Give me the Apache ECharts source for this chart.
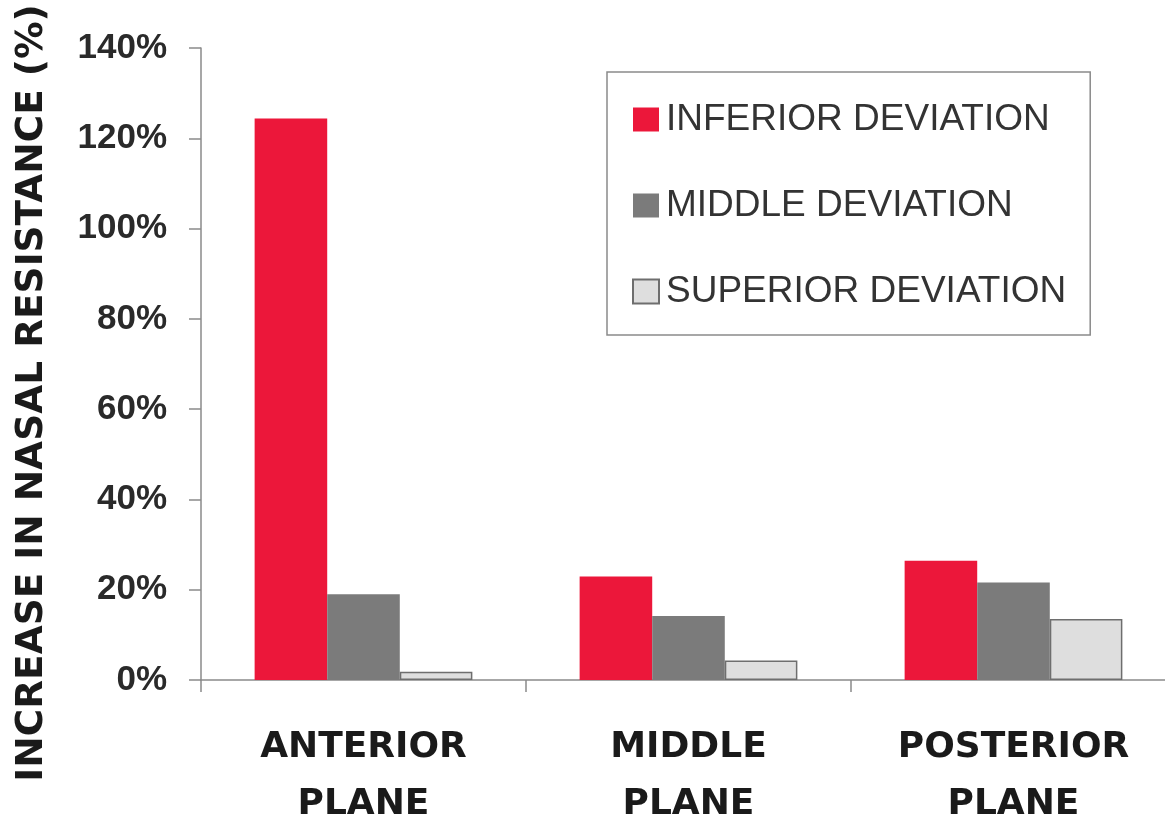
<!DOCTYPE html>
<html>
<head>
<meta charset="utf-8">
<title>Nasal resistance</title>
<script src="https://cdn.jsdelivr.net/npm/echarts@6/dist/echarts.min.js"></script>
<style>
	html,body{margin:0;padding:0;background:#fff;}
	#planeChart{width:1165px;height:819px;}
</style>
</head>
<body>
<div id="planeChart"></div>
<script>
var planes = ['ANTERIOR\nPLANE', 'MIDDLE\nPLANE', 'POSTERIOR\nPLANE'];
var seriesNames = ['INFERIOR DEVIATION', 'MIDDLE DEVIATION', 'SUPERIOR DEVIATION'];
var inferiorData = [124.4, 22.9, 26.4];
var middleData = [19.0, 14.2, 21.6];
var superiorData = [1.8, 4.3, 13.5];
var yTicks = [0, 20, 40, 60, 80, 100, 120, 140];

var charts;
function showPlaneChart(){
	//init chart
	charts = echarts.init(document.getElementById("planeChart"));
	var option = {
		backgroundColor:'#ffffff',
		animation:false,
		grid:{
			left:201,
			top:48,
			width:975,
			height:632,
			containLabel:false,
			outerBoundsMode:'none'
		},
		legend:{
			orient:'vertical',
			left:607,
			top:72,
			data:seriesNames,
			icon:'rect',
			itemWidth:26,
			itemHeight:24,
			itemGap:49,
			padding:[29, 24, 25, 25],
			borderColor:'#8a8a8a',
			borderWidth:1.5,
			backgroundColor:'#ffffff',
			textStyle:{
				fontFamily:'Liberation Sans',
				fontSize:37,
				color:'#333333',
				padding:[0, 0, 0, 2]
			}
		},
		xAxis:{
			type:'category',
			data:planes,
			axisLine:{lineStyle:{color:'#8a8a8a', width:1.5}},
			axisTick:{show:true, length:12, lineStyle:{color:'#8a8a8a', width:1.5}},
			axisLabel:{
				margin:39,
				fontFamily:'DejaVu Sans',
				fontWeight:'bold',
				fontSize:36,
				lineHeight:57,
				color:'#1a1a1a',
				interval:0
			}
		},
		yAxis:{
			type:'value',
			min:yTicks[0],
			max:yTicks[yTicks.length - 1],
			interval:20,
			name:'INCREASE IN NASAL RESISTANCE (%)',
			nameLocation:'middle',
			nameRotate:90,
			nameGap:150,
			nameTextStyle:{
				fontFamily:'DejaVu Sans',
				fontWeight:'bold',
				fontSize:37.5,
				color:'#1a1a1a',
				padding:[0, 58, 0, 0]
			},
			axisLine:{show:true, lineStyle:{color:'#8a8a8a', width:1.5}},
			axisTick:{show:true, length:12, lineStyle:{color:'#8a8a8a', width:1.5}},
			splitLine:{show:false},
			axisLabel:{
				margin:34,
				fontFamily:'Liberation Sans',
				fontWeight:'bold',
				fontSize:35,
				color:'#2a2a2a',
				formatter:function(value){
					return value + '%';
				}
			}
		},
		series:[
			{
				name:seriesNames[0],
				type:'bar',
				data:inferiorData,
				barGap:'0%',
				barCategoryGap:'33%',
				itemStyle:{color:'#ec173a'}
			},
			{
				name:seriesNames[1],
				type:'bar',
				data:middleData,
				itemStyle:{color:'#7b7b7b'}
			},
			{
				name:seriesNames[2],
				type:'bar',
				data:superiorData,
				itemStyle:{color:'#dedede', borderColor:'#6e6e6e', borderWidth:1.5}
			}
		]
	};
	charts.setOption(option);
}
showPlaneChart();
</script>
</body>
</html>
